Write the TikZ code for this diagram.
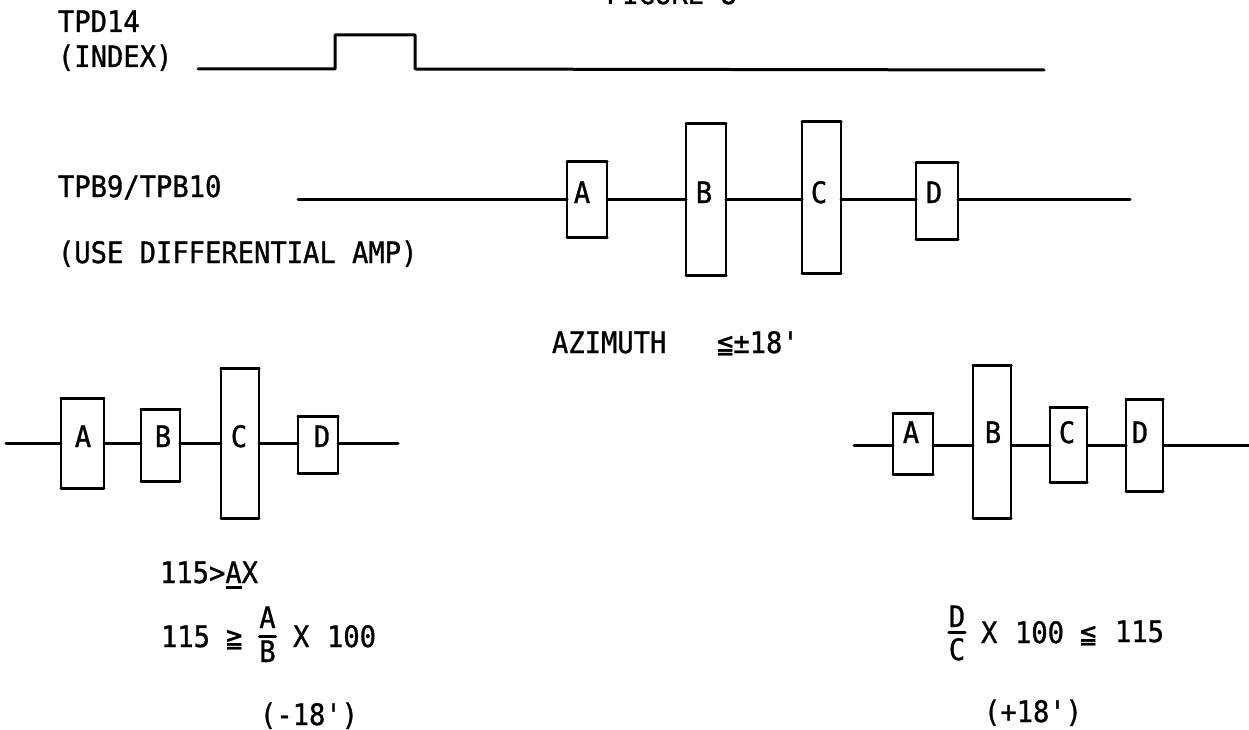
\documentclass[tikz,border=0pt]{standalone}
\usepackage{fontspec}
\setmainfont[FakeBold=1,FakeStretch=0.92,Ligatures=TeXOff]{DejaVu Sans Mono}
\tikzset{
    rail/.style={line width=3pt,line cap=round,line join=round},
    pulse/.style={shape=rectangle,draw=black,line width=1.2pt,inner sep=0pt,outer sep=0pt},
    txt/.style={anchor=base west,inner sep=0pt,outer sep=0pt,font=\fontsize{29.5}{32}\selectfont},
    letter/.style={anchor=base,inner sep=0pt,outer sep=0pt,font=\fontsize{29.5}{32}\selectfont}
}
\begin{document}
\begin{tikzpicture}[x=1pt,y=-1pt]
    \useasboundingbox (0,0) rectangle (1249,730);

    % index trace
    \node[txt] (Title) at (606,4) {FIGURE 8};
    \node[txt] (TPD) at (58,32) {TPD14};
    \node[txt] (INDEX) at (58,67) {(INDEX)};
    \coordinate (I0) at (198,69);
    \coordinate (I1) at (335,35);
    \coordinate (I2) at (415,69);
    \coordinate (I3) at (1044,70);
    \draw[rail] (I0) -| (I1) -| (I2) -- (I3);

    % middle trace
    \node[txt] (TPB) at (58,197) {TPB9/TPB10};
    \node[txt] (AMP) at (58,263) {(USE DIFFERENTIAL AMP)};
    \node[txt] (AZ) at (552,353) {AZIMUTH};
    \node[txt] (AZV) at (717,353) {≦±18'};

    \coordinate (MS) at (298,199);
    \coordinate (ME) at (1130,199);
    \node[pulse,minimum width=40pt,minimum height=75pt] (MA) at (587,199.5) {};
    \node[pulse,minimum width=40pt,minimum height=151pt] (MB) at (706,199.5) {};
    \node[pulse,minimum width=39pt,minimum height=151pt] (MC) at (821.5,197.5) {};
    \node[pulse,minimum width=42pt,minimum height=76pt] (MD) at (937,201) {};
    \node[letter] at (582,203) (MAl) {A};
    \node[letter] at (704,203) (MBl) {B};
    \node[letter] at (819,203) (MCl) {C};
    \node[letter] at (934,203) (MDl) {D};

    \draw [rail] (MS) -- (MA.west |- MS);
    \draw [rail] (MA.east |- MS) -- (MB.west |- MS);
    \draw [rail] (MB.east |- MS) -- (MC.west |- MS);
    \draw [rail] (MC.east |- MS) -- (MD.west |- MS);
    \draw [rail] (MD.east |- MS) -- (ME);

    % left trace
    \coordinate (LS) at (6,443);
    \coordinate (LE) at (398,443);
    \node[pulse,minimum width=43pt,minimum height=90pt] (LA) at (82.5,443) {};
    \node[pulse,minimum width=39pt,minimum height=72pt] (LB) at (160.5,445) {};
    \node[pulse,minimum width=38pt,minimum height=150pt] (LC) at (240,443) {};
    \node[pulse,minimum width=40pt,minimum height=57pt] (LD) at (318,444.5) {};
    \node[letter] at (83,447) (LAl) {A};
    \node[letter] at (163,447) (LBl) {B};
    \node[letter] at (239,447) (LCl) {C};
    \node[letter] at (322,447) (LDl) {D};

    \draw [rail] (LS) -- (LA.west |- LS);
    \draw [rail] (LA.east |- LS) -- (LB.west |- LS);
    \draw [rail] (LB.east |- LS) -- (LC.west |- LS);
    \draw [rail] (LC.east |- LS) -- (LD.west |- LS);
    \draw [rail] (LD.east |- LS) -- (LE);

    % right trace
    \coordinate (RS) at (854,445);
    \coordinate (RE) at (1249,445);
    \node[pulse,minimum width=40pt,minimum height=61pt] (RA) at (913,443.5) {};
    \node[pulse,minimum width=38pt,minimum height=153pt] (RB) at (992,441.5) {};
    \node[pulse,minimum width=37pt,minimum height=75pt] (RC) at (1068.5,444.5) {};
    \node[pulse,minimum width=37pt,minimum height=92pt] (RD) at (1144.5,445) {};
    \node[letter] at (911,443) (RAl) {A};
    \node[letter] at (993,443) (RBl) {B};
    \node[letter] at (1067,443) (RCl) {C};
    \node[letter] at (1140,443) (RDl) {D};

    \draw [rail] (RS) -- (RA.west |- RS);
    \draw [rail] (RA.east |- RS) -- (RB.west |- RS);
    \draw [rail] (RB.east |- RS) -- (RC.west |- RS);
    \draw [rail] (RC.east |- RS) -- (RD.west |- RS);
    \draw [rail] (RD.east |- RS) -- (RE);

    % heavy tops and bottoms of the pulses
    \foreach \n in {MA,MB,MC,MD,LA,LB,LC,LD,RA,RB,RC,RD} {
        \draw[rail] (\n.north west) -- (\n.north east);
        \draw[rail] (\n.south west) -- (\n.south east);
    }

    % left formulas
    \node[txt] (LF1) at (160,583) {115>A\llap{\rule[-6pt]{16pt}{3pt}}X};
    \node[txt] (LF2) at (161,647) {115};
    \node[txt] (LGE) at (226,647) {≧};
    \node[letter] (LNum) at (267.5,628) {A};
    \node[letter] (LDen) at (267.5,662) {B};
    \draw[rail] ([yshift=-8pt]LNum.south west) -- ([yshift=-8pt]LNum.south east);
    \node[txt] (LX) at (293,647) {X};
    \node[txt] (LH) at (327,647) {100};
    \node[txt] (LM) at (260,725) {(-18')};

    % right formulas
    \node[letter] (RNum) at (957,627) {D};
    \node[letter] (RDen) at (957,660) {C};
    \draw[rail] ([yshift=-5pt]RNum.south west) -- ([yshift=-5pt]RNum.south east);
    \node[txt] (RX) at (981,643) {X};
    \node[txt] (RH) at (1015,643) {100};
    \node[txt] (RLE) at (1080,643) {≦};
    \node[txt] (RF) at (1115,642) {115};
    \node[txt] (RP) at (984,722) {(+18')};
\end{tikzpicture}
\end{document}
